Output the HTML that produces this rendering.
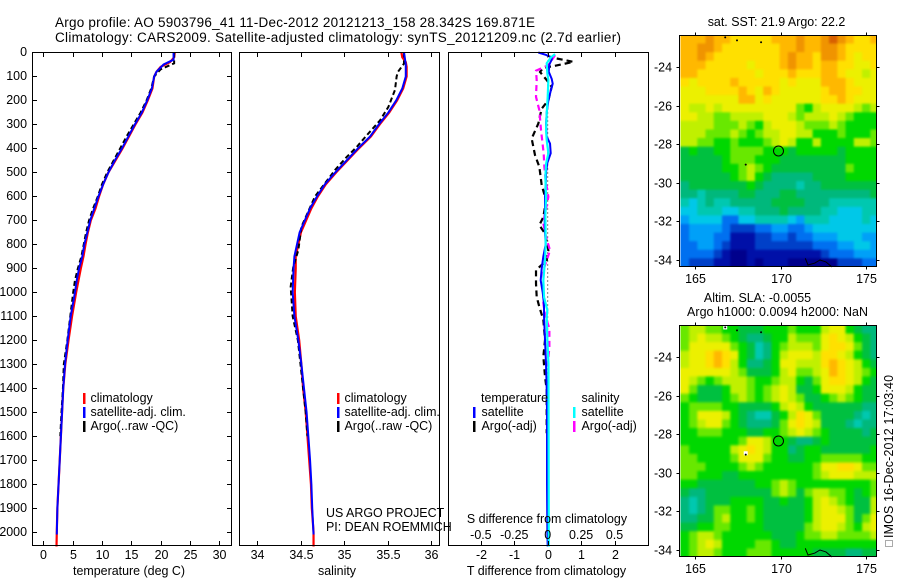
<!DOCTYPE html>
<html>
<head>
<meta charset="utf-8">
<title>Argo profile 5903796_41</title>
<style>
html,body{margin:0;padding:0;background:#fff;}
svg{display:block;}
text{font-family:"Liberation Sans",Arial,sans-serif;font-size:12.45px;fill:#000;}
.frame{fill:none;stroke:#000;stroke-width:1;}
</style>
</head>
<body>
<svg id="chart" xmlns="http://www.w3.org/2000/svg" width="900" height="580" viewBox="0 0 900 580">
<defs>
<clipPath id="clip-sst"><rect x="680.5" y="35.5" width="196" height="231"/></clipPath>
<clipPath id="clip-sla"><rect x="680.5" y="325.5" width="196" height="231"/></clipPath>
<filter id="soft-sst" filterUnits="userSpaceOnUse" x="650" y="10" width="250" height="280" color-interpolation-filters="sRGB"><feGaussianBlur stdDeviation="1.1"/></filter>
<filter id="soft-sla" filterUnits="userSpaceOnUse" x="650" y="300" width="250" height="280" color-interpolation-filters="sRGB"><feGaussianBlur stdDeviation="1.4"/></filter>
</defs>
<rect x="0" y="0" width="900" height="580" fill="#fff"/>
<g id="maps"></g>
<g id="profiles"></g>
<rect class="frame" x="32.5" y="52.5" width="199" height="493"/>
<rect class="frame" x="239.5" y="52.5" width="200" height="493"/>
<rect class="frame" x="448.5" y="52.5" width="200" height="493"/>
<rect class="frame" x="679.5" y="35.5" width="197" height="231"/>
<rect class="frame" x="679.5" y="325.5" width="197" height="231"/>
<g id="ticks"></g>

<text x="55" y="27" textLength="480" lengthAdjust="spacing" style="font-size:13.5px">Argo profile: AO 5903796_41 11-Dec-2012 20121213_158 28.342S 169.871E</text>
<text x="55" y="42" textLength="566" lengthAdjust="spacing" style="font-size:13.5px">Climatology: CARS2009. Satellite-adjusted climatology: synTS_20121209.nc (2.7d earlier)</text>

<text x="129" y="575" text-anchor="middle">temperature (deg C)</text>
<text x="337" y="575" text-anchor="middle">salinity</text>
<text x="546.5" y="575" text-anchor="middle">T difference from climatology</text>
<text x="547" y="523" text-anchor="middle">S difference from climatology</text>

<g>
<rect x="83" y="393" width="2.5" height="11" fill="#f00"/>
<rect x="83" y="407" width="2.5" height="11" fill="#00f"/>
<rect x="83" y="421" width="2.5" height="11" fill="#000"/>
<text x="90.5" y="402">climatology</text>
<text x="90.5" y="416">satellite-adj. clim.</text>
<text x="90.5" y="430">Argo(..raw -QC)</text>
</g>
<g>
<rect x="337" y="393" width="2.5" height="11" fill="#f00"/>
<rect x="337" y="407" width="2.5" height="11" fill="#00f"/>
<rect x="337" y="421" width="2.5" height="11" fill="#000"/>
<text x="344.5" y="402">climatology</text>
<text x="344.5" y="416">satellite-adj. clim.</text>
<text x="344.5" y="430">Argo(..raw -QC)</text>
</g>
<g>
<text x="481" y="402">temperature</text>
<text x="581.5" y="402">salinity</text>
<rect x="473" y="407" width="2.5" height="11" fill="#00f"/>
<rect x="473" y="421" width="2.5" height="11" fill="#000"/>
<rect x="573" y="407" width="2.5" height="11" fill="#0ff"/>
<rect x="573" y="421" width="2.5" height="11" fill="#f0f"/>
<text x="481.5" y="416">satellite</text>
<text x="481.5" y="430">Argo(-adj)</text>
<text x="581.5" y="416">satellite</text>
<text x="581.5" y="430">Argo(-adj)</text>
</g>
<text x="326" y="517">US ARGO PROJECT</text>
<text x="326" y="531">PI: DEAN ROEMMICH</text>

<text x="776.5" y="26" text-anchor="middle">sat. SST: 21.9 Argo: 22.2</text>
<text x="757.5" y="302" text-anchor="middle">Altim. SLA: -0.0055</text>
<text x="777.5" y="316" text-anchor="middle" textLength="181" lengthAdjust="spacing">Argo h1000: 0.0094 h2000: NaN</text>
<rect x="885.5" y="540.5" width="7" height="6" fill="none" stroke="#555" stroke-width="1" stroke-dasharray="1 1"/>
<text transform="translate(893,538) rotate(-90)" textLength="163" lengthAdjust="spacing">IMOS 16-Dec-2012 17:03:40</text>
</svg>

<script>
// ---------- profile data (depth in dbar) ----------
const tempDepths = [0,30,50,80,100,150,200,250,300,350,400,450,500,550,600,650,700,750,800,850,900,950,1000,1100,1200,1300,1400,1500,1600,1700,1800,1900,2010];
const tempSatellite = [22.2,22.2,20.5,19.3,18.9,18.5,17.7,16.8,15.6,14.5,13.4,12.2,11.1,10.2,9.4,8.7,8.0,7.5,7.0,6.65,6.1,5.7,5.4,4.67,4.15,3.7,3.4,3.2,3.0,2.8,2.6,2.4,2.3];

const climDepths = [0,20,40,60,80,100,150,200,250,300,350,400,450,500,550,600,650,700,750,800,850,900,950,1000,1100,1200,1300,1400,1500,1600,1700,1800,1900,2000,2060];
const tempClimatology = [22.4,22.3,21.6,20.0,19.3,18.9,18.6,17.8,16.9,15.7,14.6,13.5,12.3,11.1,10.2,9.5,8.9,8.1,7.6,7.2,6.85,6.4,6.0,5.6,4.9,4.3,3.75,3.4,3.2,3.0,2.8,2.6,2.4,2.3,2.25];
const tempArgoDepths = [0,20,45,70,100,150,200,250,300,350,400,450,500,550,600,650,700,750,800,850,900,950,1000,1100,1200,1300,1400,1500,1600];
const tempArgo = [22.3,22.3,22.3,20.0,18.9,18.4,17.6,16.6,15.4,14.2,13.1,12.0,10.9,10.0,9.3,8.5,7.8,7.3,6.9,6.5,5.9,5.4,5.1,4.6,4.1,3.5,3.35,3.1,2.9];

const salDepths = [0,50,100,150,200,250,300,350,400,450,500,550,600,650,700,750,800,850,900,1000,1100,1200,1300,1400,1500,1600,1700,1800,1900,2010];
const salSatellite = [35.69,35.71,35.71,35.67,35.60,35.51,35.40,35.30,35.16,35.03,34.90,34.78,34.69,34.61,34.55,34.49,34.46,34.43,34.42,34.41,34.43,34.475,34.51,34.54,34.57,34.59,34.61,34.625,34.635,34.65];
const salClimDepths = [0,20,40,60,100,150,200,250,300,350,400,450,500,550,600,650,700,750,800,850,900,1000,1100,1200,1300,1400,1500,1600,1700,1800,1900,2000,2060];
const salClimatology = [35.66,35.67,35.71,35.72,35.72,35.68,35.61,35.52,35.41,35.31,35.17,35.04,34.91,34.79,34.70,34.625,34.565,34.505,34.475,34.445,34.445,34.435,34.445,34.485,34.51,34.53,34.56,34.58,34.60,34.62,34.63,34.65,34.65];
const salArgoDepths = [0,46,81,100,156,227,283,346,394,436,490,600,727,824,894,977,1100,1200,1300,1400,1500,1600];
const salArgo = [35.69,35.69,35.62,35.605,35.586,35.51,35.414,35.26,35.146,35.03,34.897,34.667,34.51,34.475,34.417,34.387,34.41,34.47,34.50,34.53,34.56,34.58];

// ---------- difference panel ----------
const dtSatDepths = [0,10,20,30,50,80,110,130,160,200,250,300,350,380,420,460,500,550,600,650,700,750,800,850,900,950,1000,1050,1100,1200,1300,1400,1500,1600,1800,2000,2060];
const dtSatellite = [-0.28,-0.05,0.12,0.12,0.05,0.03,0.12,0.15,0.09,0.02,-0.03,-0.05,-0.03,0.07,0.09,-0.01,-0.05,-0.06,-0.08,-0.08,-0.09,-0.08,-0.06,-0.13,-0.18,-0.21,-0.15,-0.11,-0.11,-0.08,-0.05,-0.03,-0.02,-0.02,-0.02,-0.01,0];
const dtArgoDepths = [25,39,57,63,81,115,143,199,234,296,359,428,477,553,616,686,720,755,825,866,908,964,1019,1061,1115,1199,1268,1352,1407,1588];
const dtArgo = [0.27,0.77,0.17,-0.13,-0.23,-0.03,0.12,0.02,-0.18,-0.28,-0.48,-0.38,-0.25,-0.18,-0.05,-0.13,-0.25,-0.08,0.02,-0.03,-0.35,-0.35,-0.33,-0.25,-0.13,-0.08,-0.13,-0.08,-0.03,-0.03];
const dsSatDepths = [7,20,45,88,115,185,255,325,365,420,465,520,600,685,800,865,950,1020,1075,1100,1200,1300,2060];
const dsSatellite = [0.055,0.025,-0.0075,-0.0025,0.005,0,-0.0075,-0.0125,-0.0075,0.005,-0.0125,-0.0175,-0.0125,-0.0175,-0.015,-0.02,-0.0325,-0.0275,-0.0025,-0.0075,-0.0025,0.006,0.008];
const dsArgoDepths = [11,53,76,115,185,241,324,421,477,533,602,672,713,769,825,866,908,1019,1046,1095,1150,1227,1310];
const dsArgo = [0.055,0.005,-0.0875,-0.0825,-0.0875,-0.0625,-0.05,-0.03,-0.025,-0.015,0.005,-0.02,-0.0325,-0.0125,0.0175,-0.0075,-0.0325,-0.0325,-0.0325,-0.02,0.0125,0.0125,0];

// ---------- tick labels ----------
const depthTicks = [0,100,200,300,400,500,600,700,800,900,1000,1100,1200,1300,1400,1500,1600,1700,1800,1900,2000];
const tempTicks = [0,5,10,15,20,25,30];
const salTicks = [34,34.5,35,35.5,36];
const dtTicks = [-2,-1,0,1,2];
const dsTicks = [-0.5,-0.25,0,0.25,0.5];
const lonTicks = [165,170,175];
const latTicks = [-24,-26,-28,-30,-32,-34];

// ---------- map data: colour-level per cell, north to south, west to east ----------
const sstLevels = [
[14,14,14,15,14,14,13,13,13,13,13,14,14,14,15,14,14,15,16,15,14,13,13,14],
[14,14,15,15,14,13,13,13,13,13,13,13,14,14,15,14,14,15,15,14,13,13,13,13],
[14,14,15,14,13,13,13,13,13,13,13,13,14,15,14,14,13,15,15,14,13,12,13,13],
[14,14,14,13,13,13,13,13,12,13,13,13,14,15,14,14,13,14,14,13,13,12,12,13],
[14,14,13,13,13,13,13,13,13,12,13,13,13,14,13,13,13,14,14,13,12,12,11,12],
[13,12,13,13,13,13,14,13,13,13,13,13,12,13,12,12,12,14,14,14,13,12,12,12],
[12,12,12,13,13,13,13,14,13,12,14,13,12,12,12,12,12,13,14,14,13,13,12,12],
[12,12,12,12,12,12,12,14,14,12,13,12,12,12,12,12,12,13,13,14,13,12,12,12],
[12,11,11,12,11,12,12,12,12,12,12,12,12,12,10,9,11,12,12,12,12,11,10,11],
[12,12,11,11,10,10,11,11,11,11,12,12,12,11,10,11,11,11,12,11,10,9,9,9],
[11,11,11,11,10,10,10,11,10,9,11,12,12,12,11,10,10,10,11,10,9,9,9,9],
[11,11,11,10,10,10,11,10,9,10,11,11,12,12,11,11,9,9,9,10,9,9,9,10],
[11,11,10,10,9,9,10,9,9,9,10,11,12,11,9,9,11,9,9,9,9,11,11,10],
[8,9,8,8,9,9,10,10,10,10,9,9,9,8,9,9,9,9,9,8,9,9,9,9],
[8,8,8,8,8,9,10,10,10,9,9,9,8,8,8,8,8,8,8,8,9,9,9,9],
[8,8,8,8,8,9,9,10,11,10,9,8,8,8,8,8,8,8,8,8,10,9,9,9],
[8,8,8,8,8,8,9,10,11,9,8,7,7,7,7,7,8,8,8,8,9,9,9,9],
[7,8,8,8,8,8,8,8,9,8,7,7,7,7,6,7,7,8,8,8,8,8,8,8],
[7,7,6,7,7,7,7,8,8,7,7,7,8,8,7,7,7,7,7,7,7,7,7,8],
[6,5,6,7,6,6,7,7,7,7,7,8,8,8,8,7,7,7,6,6,6,6,6,6],
[5,5,6,6,6,5,5,6,6,7,7,7,8,7,7,7,7,6,6,5,5,5,6,6],
[4,5,5,5,5,3,3,5,5,6,6,6,6,5,4,6,6,6,5,5,5,5,6,5],
[3,4,4,4,4,3,2,2,2,3,3,4,4,3,3,4,5,5,5,5,5,5,5,5],
[3,4,4,4,3,3,1,1,1,2,2,3,3,2,3,3,4,4,4,5,5,5,4,4],
[3,3,4,4,3,2,1,1,1,2,2,2,2,2,2,2,3,3,3,4,4,5,5,4],
[3,3,3,3,2,1,0,0,1,1,1,1,1,1,1,1,1,2,3,3,3,4,4,4],
[3,2,2,2,1,1,0,0,1,0,1,1,1,0,0,0,0,0,0,2,2,2,3,3]
];
const slaLevels = [
[10,11,11,10,10,9,9,8,8,8,9,9,9,10,9,9,9,11,12,12,9,8,7,7],
[10,11,12,11,11,10,9,8,7,7,8,9,9,11,10,10,10,12,13,12,11,9,8,7],
[10,12,12,12,12,12,10,9,8,6,7,9,10,11,11,11,10,12,13,13,12,10,8,7],
[11,12,12,13,14,13,12,9,8,6,7,9,11,12,12,12,11,13,13,12,11,9,8,7],
[11,12,12,13,14,13,11,9,7,7,8,9,12,12,11,11,11,13,14,13,12,11,9,8],
[12,12,12,12,12,12,11,10,8,8,8,9,11,12,10,10,11,12,14,13,12,11,10,9],
[12,11,10,9,10,11,11,11,10,9,9,10,11,11,9,8,10,12,13,13,12,11,9,8],
[12,10,8,8,8,9,11,11,10,9,10,11,12,11,8,8,9,12,12,12,11,9,8,8],
[10,9,8,8,8,9,10,11,10,9,10,11,12,11,10,8,8,9,10,11,10,9,8,8],
[9,10,10,10,10,9,9,8,8,8,8,9,11,12,11,9,8,8,8,8,8,8,7,7],
[9,10,12,12,12,11,9,8,7,6,6,8,9,11,13,12,10,8,8,8,8,7,6,7],
[9,10,11,12,12,10,9,8,7,7,7,8,10,12,13,12,11,8,8,8,7,6,7,7],
[9,9,10,10,10,9,9,9,8,8,9,9,10,11,12,11,10,9,8,8,8,8,7,8],
[9,9,9,9,9,9,9,10,12,12,11,9,9,8,7,7,8,9,8,8,8,8,8,8],
[10,9,9,9,9,9,11,12,13,12,11,9,9,7,8,9,9,8,8,8,8,8,8,9],
[10,10,9,9,9,9,10,12,12,12,10,9,9,8,8,9,9,10,10,10,10,10,9,9],
[10,10,10,9,9,9,9,10,11,10,9,9,9,9,9,9,10,12,12,13,13,12,10,10],
[10,10,9,9,9,8,8,9,9,9,9,9,9,9,9,9,10,11,12,12,12,11,11,11],
[9,9,8,8,8,8,8,8,8,9,9,10,11,10,9,9,9,9,9,9,9,9,9,10],
[8,7,7,8,8,8,8,8,8,8,8,10,11,10,8,10,11,11,10,10,9,8,9,10],
[7,6,7,8,8,8,9,9,9,9,8,8,9,8,8,9,11,12,11,10,9,8,8,11],
[7,6,7,8,10,10,9,9,10,9,8,8,8,8,8,9,11,12,12,11,10,8,8,11],
[7,7,8,8,10,11,9,9,10,9,8,8,8,8,8,9,11,12,12,12,10,8,10,12],
[8,8,9,9,10,10,9,9,9,9,8,8,8,8,8,10,11,12,12,11,10,9,11,12],
[9,10,11,11,10,9,9,9,9,9,9,8,8,8,9,10,10,11,11,10,10,10,10,11],
[9,10,11,12,11,9,9,9,9,10,10,9,8,8,9,9,9,9,9,9,9,9,9,9],
[9,10,11,11,10,9,9,9,10,10,10,9,9,9,9,9,8,8,8,8,7,7,8,8]
];
const coastLon = [171.44,171.6,172.0,172.3,172.65,173.0];
const coastLat = [-33.91,-34.26,-34.16,-34.0,-34.1,-34.36];
const islandLon = [166.75,167.44,168.85,167.95];
const islandLat = [-22.45,-22.6,-22.7,-29.05];
const argoLon = 169.871;
const argoLat = -28.342;
const slaMissingLon = [166.75,167.95];
const slaMissingLat = [-22.45,-28.98];

// ---------- axis functions ----------
const SVGNS = 'http://www.w3.org/2000/svg';
const depthY = d => 52.5 + d * 0.2398;
const tempX = t => 43.3 + t * 5.867;
const salX = s => 257 + (s - 34) * 87;
const dtX = v => 547.7 + v * 33.4;
const dsX = v => 547.7 + v * 4 * 33.4;
const lonX = lon => 780.7 + (lon - 170) * 17.07;
const latY = (lat, y24) => y24 + (-24 - lat) * 19.27;
const LAT_TOP = -22.32, LAT_STEP = 0.446, LON_LEFT = 164.15, LON_STEP = 0.4825;
const SST_Y24 = 67.3, SLA_Y24 = 357.3;
const EDGE_PAD = 10;

const colorStops = ['#00008c','#0010a8','#0040c8','#0070f0','#00a0f8','#00c8e8','#00c8b0','#00b87c','#00c040','#00d800','#68e800','#c0f000','#ecf000','#ffe000','#ffb800','#f09400','#d86000'];
const levelColor = v => colorStops[Math.max(0, Math.min(colorStops.length - 1, Math.round(v)))];

function make(parent, tag, attrs, txt) {
  const el = document.createElementNS(SVGNS, tag);
  for (const k in attrs) el.setAttribute(k, attrs[k]);
  if (txt !== undefined) el.textContent = txt;
  parent.appendChild(el);
  return el;
}
function pathFrom(xs, ys) {
  return xs.map((x, i) => (i ? 'L' : 'M') + x.toFixed(2) + ' ' + ys[i].toFixed(2)).join(' ');
}
function drawProfile(parent, name, depths, values, xFn, color, width, dash) {
  const attrs = { d: pathFrom(values.map(xFn), depths.map(depthY)), fill: 'none', stroke: color, 'stroke-width': width };
  if (dash) attrs['stroke-dasharray'] = dash;
  const el = make(parent, 'path', attrs);
  
  
  return el;
}

// ---------- profiles ----------
const prof = document.getElementById('profiles');
drawProfile(prof, 'temperature-climatology-line', climDepths, tempClimatology, tempX, '#f00', 2.2);
drawProfile(prof, 'temperature-argo-line', tempArgoDepths, tempArgo, tempX, '#000', 2, '5 3');
drawProfile(prof, 'temperature-satellite-line', tempDepths, tempSatellite, tempX, '#00f', 2);

drawProfile(prof, 'salinity-climatology-line', salClimDepths, salClimatology, salX, '#f00', 2.2);
drawProfile(prof, 'salinity-argo-line', salArgoDepths, salArgo, salX, '#000', 2, '5 3');
drawProfile(prof, 'salinity-satellite-line', salDepths, salSatellite, salX, '#00f', 2);

const zeroLine = make(prof, 'line', { x1: dtX(0), x2: dtX(0), y1: depthY(0), y2: depthY(2060), stroke: '#000', 'stroke-width': 1, 'stroke-dasharray': '1 3' });


drawProfile(prof, 't-difference-argo-line', dtArgoDepths, dtArgo, dtX, '#000', 2.2, '6 4');
drawProfile(prof, 's-difference-argo-line', dsArgoDepths, dsArgo, dsX, '#f0f', 2.2, '6 4');
drawProfile(prof, 't-difference-satellite-line', dtSatDepths, dtSatellite, dtX, '#00f', 2);
drawProfile(prof, 's-difference-satellite-line', dsSatDepths, dsSatellite, dsX, '#0ff', 2.2);

// ---------- ticks ----------
const ticks = document.getElementById('ticks');
function tickLine(x1, y1, x2, y2, name) {
  const t = make(ticks, 'line', { x1: x1, y1: y1, x2: x2, y2: y2, stroke: '#000', 'stroke-width': 1 });
  
  
}
function tickText(x, y, anchor, s, name) {
  const t = make(ticks, 'text', { x: x, y: y, 'text-anchor': anchor }, s);
  
  
}
depthTicks.forEach(d => {
  const y = Math.floor(depthY(d)) + 0.5;
  tickLine(32, y, 37, y, 'depth-tick-left');
  tickLine(227, y, 231, y, 'depth-tick-right');
  tickText(27, Math.floor(depthY(d)) + 4, 'end', String(d), 'depth-tick-label');
});
tempTicks.forEach(t => {
  const x = Math.round(tempX(t)) + 0.5;
  tickLine(x, 52, x, 57, 'temperature-tick-top');
  tickLine(x, 541, x, 545, 'temperature-tick-bottom');
  tickText(x, 559, 'middle', String(t), 'temperature-tick-label');
});
salTicks.forEach(s => {
  const x = Math.round(salX(s)) + 0.5;
  tickLine(x, 52, x, 57, 'salinity-tick-top');
  tickLine(x, 541, x, 545, 'salinity-tick-bottom');
  tickText(x, 559, 'middle', String(s), 'salinity-tick-label');
});
dtTicks.forEach(v => {
  const x = Math.round(dtX(v)) + 0.5;
  tickLine(x, 52, x, 57, 't-difference-tick-top');
  tickLine(x, 541, x, 545, 't-difference-tick-bottom');
  tickText(x, 559, 'middle', String(v), 't-difference-tick-label');
});
dsTicks.forEach(v => {
  tickText(dsX(v), 539, 'middle', String(v), 's-difference-tick-label');
});
[[SST_Y24, 35, 267, 'sst'], [SLA_Y24, 325, 557, 'sla']].forEach(m => {
  lonTicks.forEach(lon => {
    const x = Math.round(lonX(lon)) + 0.5;
    tickLine(x, m[1] - 2.5, x, m[1] + 0.5, m[3] + '-lon-tick-top');
    tickLine(x, m[2] - 0.5, x, m[2] + 2.5, m[3] + '-lon-tick-bottom');
    tickText(x, m[2] + 16, 'middle', String(lon), m[3] + '-lon-tick-label');
  });
  latTicks.forEach(lat => {
    const y = Math.round(latY(lat, m[0])) + 0.5;
    tickLine(676.5, y, 679.5, y, m[3] + '-lat-tick-left');
    tickLine(876.5, y, 879.5, y, m[3] + '-lat-tick-right');
    tickText(672, y + 4, 'end', String(lat), m[3] + '-lat-tick-label');
  });
});

// ---------- maps ----------
const maps = document.getElementById('maps');
function drawMap(levels, y24, name, clipId, filterId) {
  const clip = make(maps, 'g', { 'clip-path': 'url(#' + clipId + ')' });
  
  
  const g = make(clip, 'g', { filter: 'url(#' + filterId + ')' });
  
  
  levels.forEach((row, r) => {
    let y0 = latY(LAT_TOP - r * LAT_STEP, y24);
    let y1 = latY(LAT_TOP - (r + 1) * LAT_STEP, y24);
    if (r === 0) y0 -= EDGE_PAD;
    if (r === levels.length - 1) y1 += EDGE_PAD;
    row.forEach((v, c) => {
      let x0 = lonX(LON_LEFT + c * LON_STEP);
      let x1 = lonX(LON_LEFT + (c + 1) * LON_STEP);
      if (c === 0) x0 -= EDGE_PAD;
      if (c === row.length - 1) x1 += EDGE_PAD;
      const cell = make(g, 'rect', { x: x0.toFixed(2), y: y0.toFixed(2), width: (x1 - x0 + 0.4).toFixed(2), height: (y1 - y0 + 0.4).toFixed(2), fill: levelColor(v) });
      
      
    });
  });
}
function drawOverlay(y24, name) {
  const coast = make(maps, 'path', { d: pathFrom(coastLon.map(lonX), coastLat.map(v => latY(v, y24))), fill: 'none', stroke: '#000', 'stroke-width': 1 });
  
  
  islandLon.forEach((lon, i) => {
    const dot = make(maps, 'circle', { cx: lonX(lon), cy: latY(islandLat[i], y24), r: 1, fill: '#000' });
    
    
  });
  const marker = make(maps, 'circle', { cx: lonX(argoLon), cy: latY(argoLat, y24), r: 5, fill: 'none', stroke: '#000', 'stroke-width': 1 });
  
  
}
drawMap(sstLevels, SST_Y24, 'sst-map', 'clip-sst', 'soft-sst');
drawOverlay(SST_Y24, 'sst-map');
drawMap(slaLevels, SLA_Y24, 'sla-map', 'clip-sla', 'soft-sla');
slaMissingLon.forEach((lon, i) => {
  const gap = make(maps, 'rect', { x: lonX(lon) - 2, y: latY(slaMissingLat[i], SLA_Y24) - 2, width: 4, height: 4, fill: '#fff' });
  
  
});
drawOverlay(SLA_Y24, 'sla-map');
</script>
</body>
</html>
